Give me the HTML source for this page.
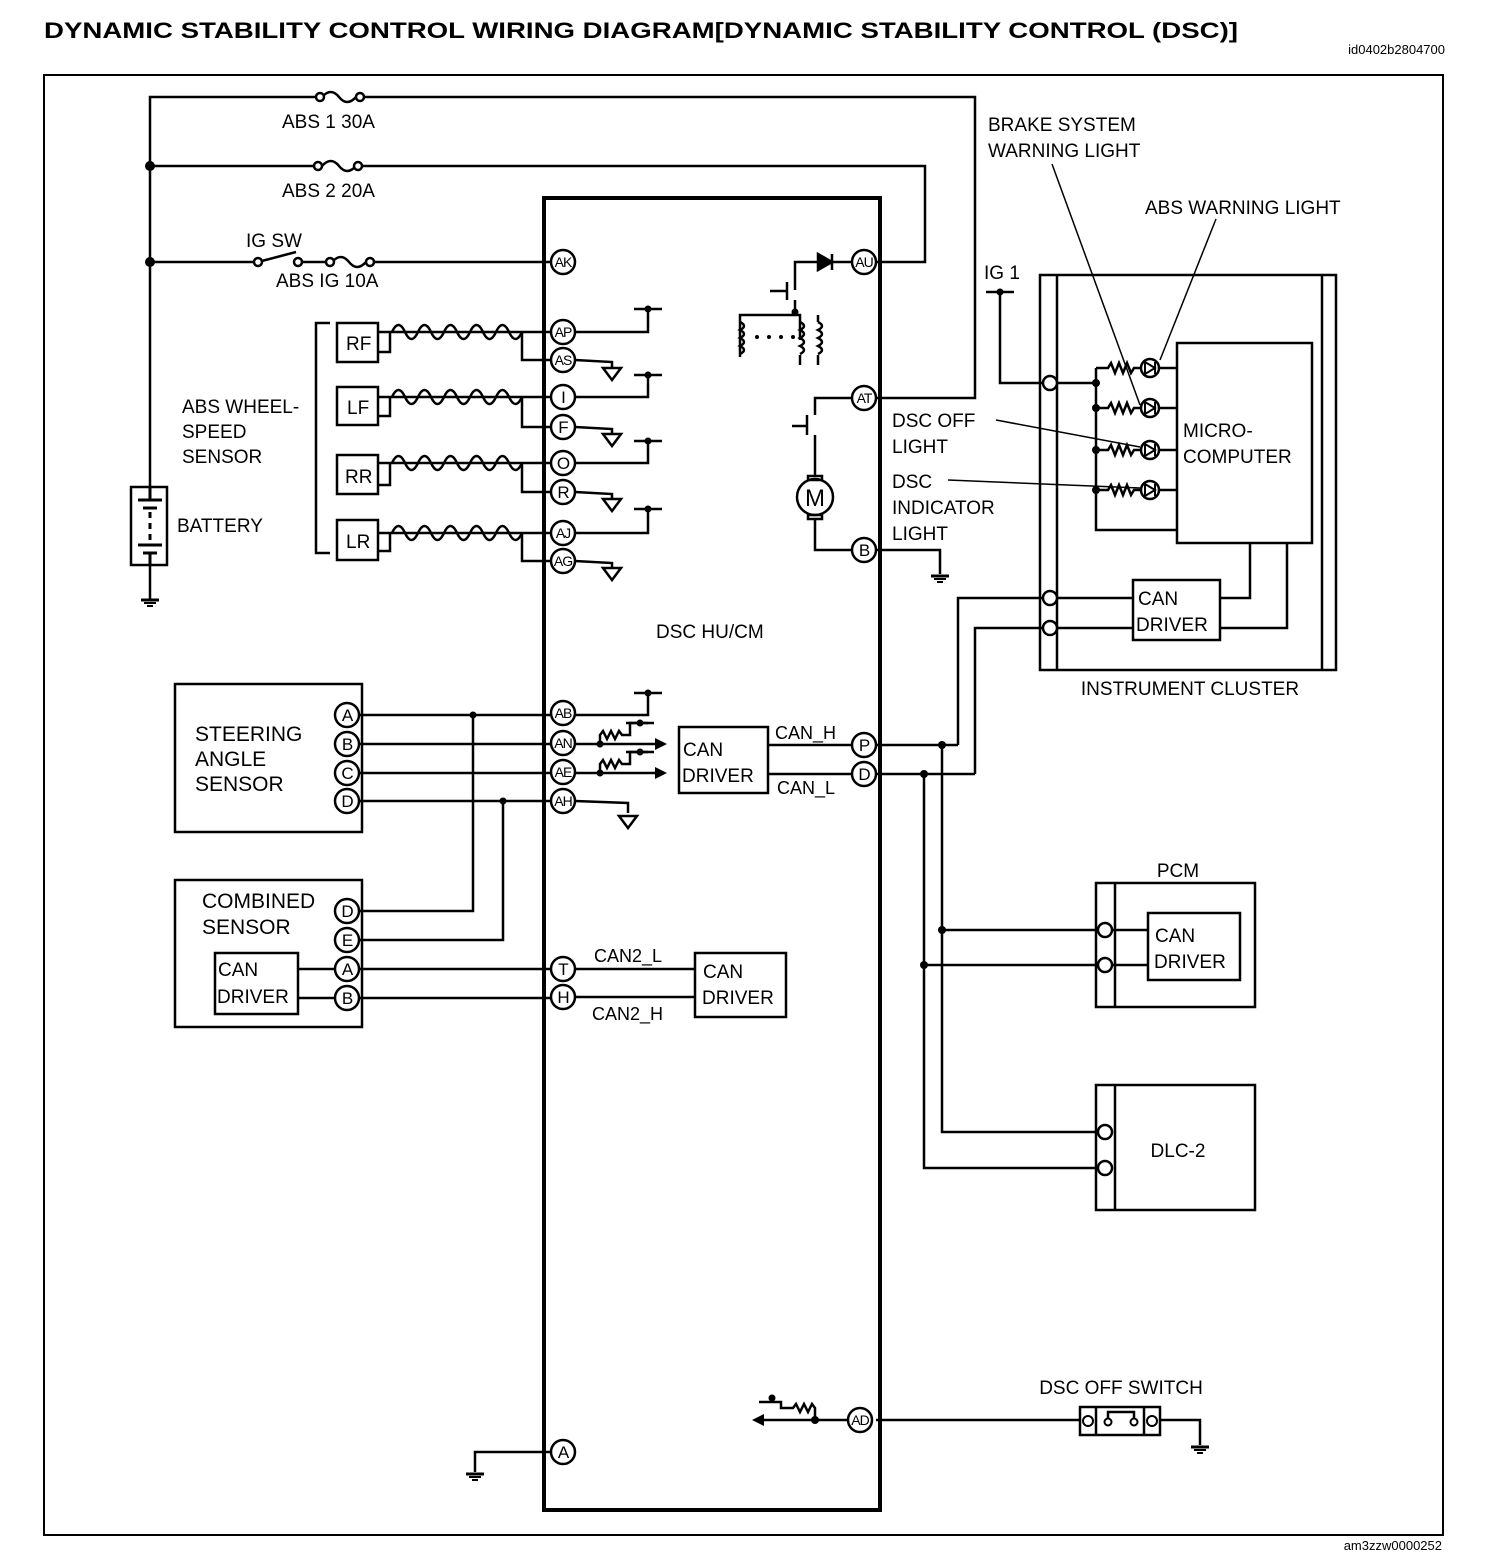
<!DOCTYPE html>
<html><head><meta charset="utf-8"><style>
html,body{margin:0;padding:0;background:#fff}
svg{display:block}
text{font-family:"Liberation Sans",Arial,sans-serif;fill:#000}
</style></head><body>
<svg width="1504" height="1556" viewBox="0 0 1504 1556" xmlns="http://www.w3.org/2000/svg">
<defs>
<g id="gnd"><path d="M-9,0 L9,0 L0,12 Z" fill="none" stroke="#000" stroke-width="2.5"/></g>
<g id="eg"><line x1="-9" y1="0" x2="9" y2="0" stroke="#000" stroke-width="3"/><line x1="-6" y1="3" x2="6" y2="3" stroke="#000" stroke-width="2"/><line x1="-3" y1="6" x2="3" y2="6" stroke="#000" stroke-width="2"/></g>
<g id="stub"><line x1="-14" y1="0" x2="14" y2="0" stroke="#000" stroke-width="2.5"/><circle cx="0" cy="0" r="3.5" fill="#000"/></g>
</defs>
<rect width="1504" height="1556" fill="#fff"/>
<text x="44" y="38" font-size="22" font-weight="bold" textLength="1194" lengthAdjust="spacingAndGlyphs">DYNAMIC STABILITY CONTROL WIRING DIAGRAM[DYNAMIC STABILITY CONTROL (DSC)]</text>
<text x="1445" y="54" font-size="13" text-anchor="end">id0402b2804700</text>
<text x="1442" y="1550" font-size="13" text-anchor="end">am3zzw0000252</text>
<rect x="44" y="75" width="1399" height="1460" fill="none" stroke="#000" stroke-width="2"/>

<g stroke="#000" stroke-width="2.5" fill="none">
<polyline points="150,600 150,97 318,97"/>
<polyline points="360,97 975,97 975,398 876,398"/>
<polyline points="150,166 318,166"/>
<polyline points="358,166 925,166 925,262 876,262"/>
<polyline points="150,262 258,262"/>
<line x1="258" y1="262" x2="296" y2="252"/>
<polyline points="298,262 328,262"/>
<polyline points="370,262 551,262"/>
<path d="M322,97 q9,-10 17,0 t17,0"/><path d="M322,166 q9,-10 17,0 t17,0"/><path d="M332,262 q9,-10 17,0 t17,0"/>
</g>
<g fill="#fff" stroke="#000" stroke-width="2.5">
<circle cx="320" cy="97" r="4"/><circle cx="360" cy="97" r="4"/>
<circle cx="318" cy="166" r="4"/><circle cx="358" cy="166" r="4"/>
<circle cx="258" cy="262" r="4"/><circle cx="298" cy="262" r="4"/>
<circle cx="330" cy="262" r="4"/><circle cx="370" cy="262" r="4"/>
</g>
<circle cx="150" cy="166" r="5"/><circle cx="150" cy="262" r="5"/>
<text x="282" y="128" font-size="19">ABS 1 30A</text>
<text x="282" y="197" font-size="19">ABS 2 20A</text>
<text x="246" y="247" font-size="19">IG SW</text>
<text x="276" y="287" font-size="19">ABS IG 10A</text>

<rect x="131" y="487" width="36" height="78" fill="#fff" stroke="#000" stroke-width="2.5"/>
<g stroke="#000" stroke-width="3"><line x1="150" y1="487" x2="150" y2="500"/><line x1="138" y1="500" x2="162" y2="500"/><line x1="143" y1="508" x2="157" y2="508"/>
<line x1="150" y1="512" x2="150" y2="540" stroke-dasharray="6,5"/>
<line x1="138" y1="545" x2="162" y2="545"/><line x1="143" y1="553" x2="157" y2="553"/><line x1="150" y1="553" x2="150" y2="565"/></g>
<use href="#eg" x="150" y="600"/>
<text x="177" y="532" font-size="19">BATTERY</text>

<rect x="544" y="198" width="336" height="1312" fill="none" stroke="#000" stroke-width="4"/>
<text x="656" y="638" font-size="19">DSC HU/CM</text>

<polyline points="330,323 316,323 316,553 330,553" fill="none" stroke="#000" stroke-width="2.5"/>
<text x="182" y="413" font-size="19">ABS WHEEL-</text><text x="182" y="438" font-size="19">SPEED</text><text x="182" y="463" font-size="19">SENSOR</text>
<g font-size="19">
<g stroke="#000" stroke-width="2.5" fill="none">
<rect x="337" y="323" width="41" height="39"/><rect x="337" y="387" width="41" height="38"/><rect x="337" y="455" width="41" height="39"/><rect x="337" y="520" width="41" height="40"/>
</g>
<text x="346" y="350">RF</text><text x="347" y="414">LF</text><text x="345" y="483">RR</text><text x="346" y="548">LR</text>
</g>
<g stroke="#000" stroke-width="2.5" fill="none">
<polyline points="378,332 551,332"/><polyline points="378,352 390,352 390,332"/>
<path d="M392,332 q6.5,-14 13,0 t13,0 t13,0 t13,0 t13,0 t13,0 t13,0 t13,0 t13,0 t13,0"/>
<polyline points="522,332 522,360 551,360"/>
<polyline points="378,397 551,397"/><polyline points="378,416 390,416 390,397"/>
<path d="M392,397 q6.5,-14 13,0 t13,0 t13,0 t13,0 t13,0 t13,0 t13,0 t13,0 t13,0 t13,0"/>
<polyline points="522,397 522,427 551,427"/>
<polyline points="378,463 551,463"/><polyline points="378,485 390,485 390,463"/>
<path d="M392,463 q6.5,-14 13,0 t13,0 t13,0 t13,0 t13,0 t13,0 t13,0 t13,0 t13,0 t13,0"/>
<polyline points="522,463 522,492 551,492"/>
<polyline points="378,533 551,533"/><polyline points="378,551 390,551 390,533"/>
<path d="M392,533 q6.5,-14 13,0 t13,0 t13,0 t13,0 t13,0 t13,0 t13,0 t13,0 t13,0 t13,0"/>
<polyline points="522,533 522,561 551,561"/>
<polyline points="575,332 648,332 648,309"/><polyline points="575,360 612,362 612,368"/>
<polyline points="575,397 648,397 648,375"/><polyline points="575,427 612,429 612,434"/>
<polyline points="575,463 648,463 648,441"/><polyline points="575,492 612,494 612,499"/>
<polyline points="575,533 648,533 648,509"/><polyline points="575,561 612,563 612,568"/>
</g>
<use href="#stub" x="648" y="309"/><use href="#stub" x="648" y="375"/><use href="#stub" x="648" y="441"/><use href="#stub" x="648" y="509"/>
<use href="#gnd" x="612" y="368"/><use href="#gnd" x="612" y="434"/><use href="#gnd" x="612" y="499"/><use href="#gnd" x="612" y="568"/>

<g stroke="#000" stroke-width="2.5" fill="none">
<polyline points="851,262 832,262"/><path d="M832,254 L832,270 M832,262 L818,254 L818,270 Z" fill="#000"/>
<polyline points="818,262 795,262 795,290"/>
<line x1="787" y1="282" x2="787" y2="300"/><line x1="770" y1="291" x2="787" y2="291"/>
<polyline points="795,300 795,312"/>
<polyline points="740,357 740,315 800,315 800,340"/>
<path d="M740,322 q8,4 0,8 q8,4 0,8 q8,4 0,8 q8,4 0,8"/>
<path d="M800,322 q8,4 0,8 q8,4 0,8 q8,4 0,8 q8,4 0,8"/>
<polyline points="818,315 818,322"/><path d="M818,322 q8,4 0,8 q8,4 0,8 q8,4 0,8 q8,4 0,8"/>
<line x1="800" y1="355" x2="800" y2="365"/><line x1="818" y1="355" x2="818" y2="365"/>
<polyline points="851,398 815,398 815,415"/>
<line x1="807" y1="415" x2="807" y2="435"/><line x1="792" y1="426" x2="807" y2="426"/>
<polyline points="815,435 815,475"/>
<circle cx="815" cy="497" r="18"/>
<rect x="808" y="476" width="14" height="4"/><rect x="808" y="515" width="14" height="4"/>
<polyline points="815,519 815,550 851,550"/>
<polyline points="876,550 940,550 940,574"/>
</g>
<circle cx="795" cy="312" r="3.5"/>
<g fill="#000"><circle cx="757" cy="337" r="2"/><circle cx="769" cy="337" r="2"/><circle cx="781" cy="337" r="2"/><circle cx="793" cy="337" r="2"/></g>
<text x="815" y="506" font-size="24" text-anchor="middle">M</text>
<use href="#eg" x="940" y="576"/>

<text x="892" y="427" font-size="19">DSC OFF</text><text x="892" y="453" font-size="19">LIGHT</text>
<text x="892" y="488" font-size="19">DSC</text><text x="892" y="514" font-size="19">INDICATOR</text><text x="892" y="540" font-size="19">LIGHT</text>
<g stroke="#000" stroke-width="1.5"><line x1="996" y1="420" x2="1140" y2="447"/><line x1="948" y1="480" x2="1140" y2="488"/>
<line x1="1052" y1="164" x2="1140" y2="405"/><line x1="1216" y1="219" x2="1160" y2="360"/></g>

<text x="988" y="131" font-size="19">BRAKE SYSTEM</text><text x="988" y="157" font-size="19">WARNING LIGHT</text>
<text x="1145" y="214" font-size="19">ABS WARNING LIGHT</text>
<text x="984" y="279" font-size="19">IG 1</text>
<use href="#stub" x="1000" y="292"/>
<g stroke="#000" stroke-width="2.5" fill="none">
<rect x="1040" y="275" width="296" height="395"/>
<line x1="1057" y1="275" x2="1057" y2="670"/><line x1="1322" y1="275" x2="1322" y2="670"/>
<rect x="1177" y="343" width="135" height="200"/>
<polyline points="1000,292 1000,383 1044,383"/>
<polyline points="1056,383 1096,383"/>
<polyline points="1096,368 1096,530 1177,530"/>
<rect x="1133" y="580" width="87" height="60"/>
<polyline points="958,745 958,598 1044,598"/><polyline points="1056,598 1133,598"/>
<polyline points="975,774 975,628 1044,628"/><polyline points="1056,628 1133,628"/>
<polyline points="1220,598 1250,598 1250,543"/><polyline points="1220,628 1287,628 1287,543"/>
</g>
<g fill="#fff" stroke="#000" stroke-width="2.5">
<circle cx="1050" cy="383" r="7"/><circle cx="1050" cy="598" r="7"/><circle cx="1050" cy="628" r="7"/>
</g>
<g stroke="#000" stroke-width="2.5" fill="none">
<path d="M1096,368 L1108,368 l3,-5 l4,10 l4,-10 l4,10 l4,-10 l4,10 l3,-5 L1141,368"/>
<path d="M1096,408 L1108,408 l3,-5 l4,10 l4,-10 l4,10 l4,-10 l4,10 l3,-5 L1141,408"/>
<path d="M1096,450 L1108,450 l3,-5 l4,10 l4,-10 l4,10 l4,-10 l4,10 l3,-5 L1141,450"/>
<path d="M1096,490 L1108,490 l3,-5 l4,10 l4,-10 l4,10 l4,-10 l4,10 l3,-5 L1141,490"/>
<circle cx="1150" cy="368" r="9"/><circle cx="1150" cy="408" r="9"/><circle cx="1150" cy="450" r="9"/><circle cx="1150" cy="490" r="9"/>
<line x1="1159" y1="368" x2="1177" y2="368"/><line x1="1159" y1="408" x2="1177" y2="408"/><line x1="1159" y1="450" x2="1177" y2="450"/><line x1="1159" y1="490" x2="1177" y2="490"/>
<path d="M1145,362 L1155,368 L1145,374 Z M1155,362 L1155,374 M1145,402 L1155,408 L1145,414 Z M1155,402 L1155,414 M1145,444 L1155,450 L1145,456 Z M1155,444 L1155,456 M1145,484 L1155,490 L1145,496 Z M1155,484 L1155,496" stroke-width="2"/>
</g>
<g fill="#000"><circle cx="1096" cy="383" r="4"/><circle cx="1096" cy="408" r="4"/><circle cx="1096" cy="450" r="4"/><circle cx="1096" cy="490" r="4"/></g>
<text x="1183" y="437" font-size="19">MICRO-</text><text x="1183" y="463" font-size="19">COMPUTER</text>
<text x="1138" y="605" font-size="19">CAN</text><text x="1136" y="631" font-size="19">DRIVER</text>
<text x="1190" y="695" font-size="19" text-anchor="middle">INSTRUMENT CLUSTER</text>

<g stroke="#000" stroke-width="2.5" fill="none">
<rect x="175" y="684" width="187" height="148"/>
<rect x="175" y="880" width="187" height="147"/>
<rect x="215" y="953" width="83" height="61"/>
<line x1="359" y1="715" x2="551" y2="715"/><line x1="359" y1="744" x2="551" y2="744"/>
<line x1="359" y1="773" x2="551" y2="773"/><line x1="359" y1="801" x2="551" y2="801"/>
<polyline points="359,911 473,911 473,715"/><polyline points="359,940 503,940 503,801"/>
<line x1="298" y1="969" x2="335" y2="969"/><line x1="298" y1="998" x2="335" y2="998"/>
<line x1="359" y1="969" x2="551" y2="969"/><line x1="359" y1="998" x2="551" y2="998"/>
<polyline points="575,715 648,715 648,693"/>
<polyline points="575,744 655,744"/><polyline points="575,773 655,773"/>
<path d="M600,744 L600,735 l3,-4 l4,8 l4,-8 l4,8 l4,-8 l3,4 l8,0 l0,-12 l18,0"/>
<path d="M600,773 L600,764 l3,-4 l4,8 l4,-8 l4,8 l4,-8 l3,4 l8,0 l0,-12 l18,0"/>
<polyline points="575,801 628,803 628,813"/>
<rect x="679" y="727" width="89" height="66"/>
<line x1="768" y1="745" x2="851" y2="745"/><line x1="768" y1="774" x2="851" y2="774"/>
<rect x="695" y="953" width="91" height="64"/>
<line x1="575" y1="969" x2="695" y2="969"/><line x1="575" y1="997" x2="695" y2="997"/>
</g>
<path d="M655,738 L667,744 L655,750 Z M655,767 L667,773 L655,779 Z" fill="#000"/>
<use href="#stub" x="648" y="693"/><use href="#stub" x="640" y="723"/><use href="#stub" x="640" y="752"/>
<circle cx="600" cy="744" r="3.5"/><circle cx="600" cy="773" r="3.5"/>
<use href="#gnd" x="628" y="816"/>
<circle cx="473" cy="715" r="3.5"/><circle cx="503" cy="801" r="3.5"/>
<text x="195" y="741" font-size="21">STEERING</text><text x="195" y="766" font-size="21">ANGLE</text><text x="195" y="791" font-size="21">SENSOR</text>
<text x="202" y="908" font-size="21">COMBINED</text><text x="202" y="934" font-size="21">SENSOR</text>
<text x="218" y="976" font-size="19">CAN</text><text x="217" y="1003" font-size="19">DRIVER</text>
<text x="683" y="756" font-size="19">CAN</text><text x="682" y="782" font-size="19">DRIVER</text>
<text x="703" y="978" font-size="19">CAN</text><text x="702" y="1004" font-size="19">DRIVER</text>
<text x="775" y="739" font-size="18">CAN_H</text><text x="777" y="794" font-size="18">CAN_L</text>
<text x="594" y="962" font-size="18">CAN2_L</text><text x="592" y="1020" font-size="18">CAN2_H</text>

<g stroke="#000" stroke-width="2.5" fill="none">
<line x1="876" y1="745" x2="958" y2="745"/><line x1="876" y1="774" x2="975" y2="774"/>
<polyline points="942,745 942,1132 1099,1132"/><polyline points="924,774 924,1168 1099,1168"/>
<line x1="942" y1="930" x2="1099" y2="930"/><line x1="924" y1="965" x2="1099" y2="965"/>
<rect x="1096" y="883" width="159" height="124"/><line x1="1115" y1="883" x2="1115" y2="1007"/>
<rect x="1148" y="913" width="92" height="67"/>
<line x1="1111" y1="930" x2="1148" y2="930"/><line x1="1111" y1="965" x2="1148" y2="965"/>
<rect x="1096" y="1085" width="159" height="125"/><line x1="1115" y1="1085" x2="1115" y2="1210"/>
</g>
<g fill="#fff" stroke="#000" stroke-width="2.5">
<circle cx="1105" cy="930" r="7"/><circle cx="1105" cy="965" r="7"/><circle cx="1105" cy="1132" r="7"/><circle cx="1105" cy="1168" r="7"/>
</g>
<g fill="#000"><circle cx="942" cy="745" r="4"/><circle cx="924" cy="774" r="4"/><circle cx="942" cy="930" r="4"/><circle cx="924" cy="965" r="4"/></g>
<text x="1178" y="877" font-size="19" text-anchor="middle">PCM</text>
<text x="1155" y="942" font-size="19">CAN</text><text x="1154" y="968" font-size="19">DRIVER</text>
<text x="1178" y="1157" font-size="19" text-anchor="middle">DLC-2</text>

<g stroke="#000" stroke-width="2.5" fill="none">
<line x1="876" y1="1420" x2="1080" y2="1420"/>
<rect x="1080" y="1407" width="80" height="28"/>
<line x1="1096" y1="1407" x2="1096" y2="1435"/><line x1="1144" y1="1407" x2="1144" y2="1435"/>
<polyline points="1108,1420 1108,1412 1134,1412 1134,1420"/>
<polyline points="1160,1420 1200,1420 1200,1445"/>
<path d="M851,1420 L815,1420 L815,1408 l-3,-4 l-4,8 l-4,-8 l-4,8 l-4,-8 l-3,4 l-12,0 l0,-6 l-22,0"/>
<line x1="815" y1="1420" x2="760" y2="1420"/>
<polyline points="551,1452 475,1452 475,1472"/>
</g>
<g fill="#fff" stroke="#000" stroke-width="2"><circle cx="1088" cy="1421" r="5"/><circle cx="1152" cy="1421" r="5"/><circle cx="1108" cy="1422" r="3.5"/><circle cx="1134" cy="1422" r="3.5"/></g>
<path d="M752,1420 L764,1414 L764,1426 Z" fill="#000"/>
<circle cx="815" cy="1420" r="4"/><circle cx="772" cy="1398" r="3.5"/>
<use href="#eg" x="1200" y="1447"/><use href="#eg" x="475" y="1474"/>
<text x="1121" y="1394" font-size="19" text-anchor="middle">DSC OFF SWITCH</text>

<g fill="#fff" stroke="#000" stroke-width="2.5">
<circle cx="563" cy="262" r="12"/><circle cx="563" cy="332" r="12"/><circle cx="563" cy="360" r="12"/><circle cx="563" cy="397" r="12"/><circle cx="563" cy="427" r="12"/><circle cx="563" cy="463" r="12"/><circle cx="563" cy="492" r="12"/><circle cx="563" cy="533" r="12"/><circle cx="563" cy="561" r="12"/>
<circle cx="563" cy="713" r="12"/><circle cx="563" cy="743" r="12"/><circle cx="563" cy="772" r="12"/><circle cx="563" cy="801" r="12"/><circle cx="563" cy="969" r="12"/><circle cx="563" cy="997" r="12"/><circle cx="563" cy="1452" r="12"/>
<circle cx="864" cy="262" r="12"/><circle cx="864" cy="398" r="12"/><circle cx="864" cy="550" r="12"/><circle cx="864" cy="745" r="12"/><circle cx="864" cy="774" r="12"/><circle cx="860" cy="1420" r="12"/>
<circle cx="347" cy="715" r="12"/><circle cx="347" cy="744" r="12"/><circle cx="347" cy="773" r="12"/><circle cx="347" cy="801" r="12"/>
<circle cx="347" cy="911" r="12"/><circle cx="347" cy="940" r="12"/><circle cx="347" cy="969" r="12"/><circle cx="347" cy="998" r="12"/>
</g>
<g font-size="14" text-anchor="middle" letter-spacing="-1">
<text x="563" y="267">AK</text><text x="563" y="337">AP</text><text x="563" y="365">AS</text><text x="563" y="403" font-size="17">I</text><text x="563" y="433" font-size="17">F</text><text x="563" y="469" font-size="17">O</text><text x="563" y="498" font-size="17">R</text><text x="563" y="538">AJ</text><text x="563" y="566">AG</text>
<text x="563" y="718">AB</text><text x="563" y="748">AN</text><text x="563" y="777">AE</text><text x="563" y="806">AH</text><text x="563" y="975" font-size="17">T</text><text x="563" y="1003" font-size="17">H</text><text x="563" y="1458" font-size="17">A</text>
<text x="864" y="267">AU</text><text x="864" y="403">AT</text><text x="864" y="556" font-size="17">B</text><text x="864" y="751" font-size="17">P</text><text x="864" y="780" font-size="17">D</text><text x="860" y="1425">AD</text>
<g font-size="17"><text x="347" y="721">A</text><text x="347" y="750">B</text><text x="347" y="779">C</text><text x="347" y="807">D</text>
<text x="347" y="917">D</text><text x="347" y="946">E</text><text x="347" y="975">A</text><text x="347" y="1004">B</text></g>
</g>
</svg>
</body></html>
